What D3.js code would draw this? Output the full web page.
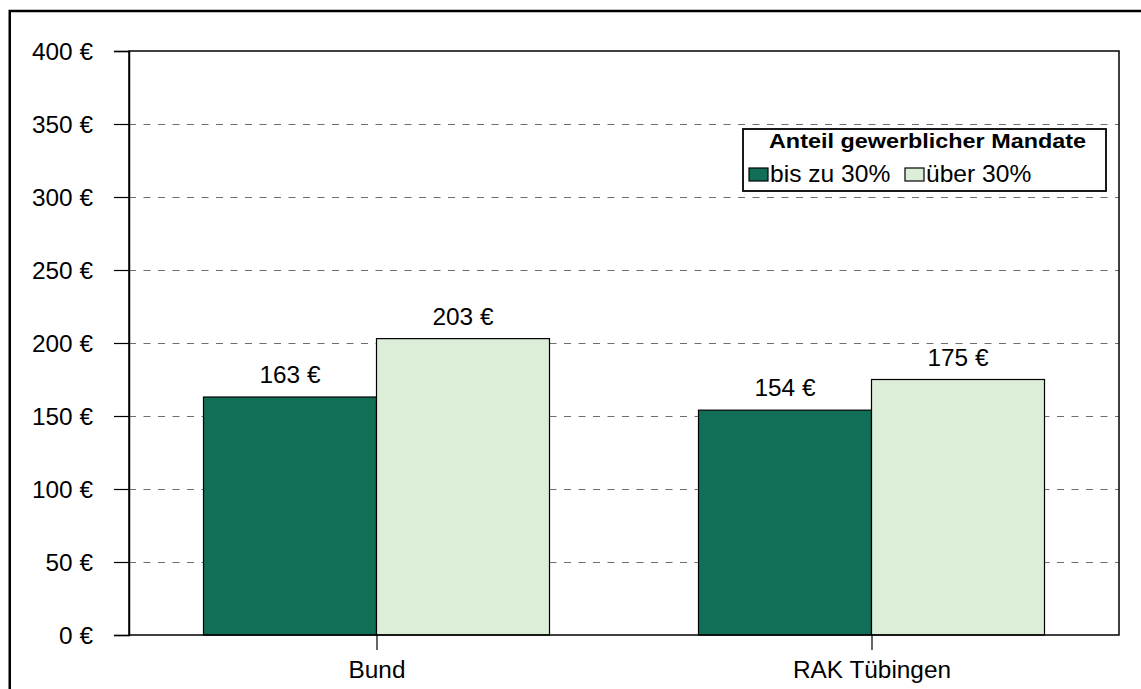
<!DOCTYPE html>
<html>
<head>
<meta charset="utf-8">
<script src="https://cdn.jsdelivr.net/npm/d3@7"></script>
<style>
  html, body { margin: 0; padding: 0; background: #fff; }
  svg { display: block; font-family: "Liberation Sans", Arial, sans-serif; }
</style>
</head>
<body>
<svg id="chart" width="1141" height="689"></svg>
<script>
// ---- data ----
const categories = ["Bund", "RAK Tübingen"];
const seriesNames = ["bis zu 30%", "über 30%"];
const valuesUpTo30 = [163, 154];
const valuesOver30 = [203, 175];
const yTickValues = [0, 50, 100, 150, 200, 250, 300, 350, 400];
const legendTitle = "Anteil gewerblicher Mandate";
const seriesColors = ["#116f57", "#dcedd8"];

// ---- layout ----
const W = 1141, H = 689;
const plot = { left: 129, right: 1119, top: 51, bottom: 635 };
const fontSize = 23;
const sx = 1.06; // horizontal text stretch seen in the reference

function stretch(sel, s) {
  sel.each(function () {
    const t = d3.select(this);
    const x = +t.attr("x") || 0, yy = +t.attr("y") || 0;
    t.attr("x", 0).attr("y", 0).attr("transform", `translate(${x},${yy}) scale(${s},1)`);
  });
}

const svg = d3.select("#chart");

// outer border
svg.append("rect")
  .attr("x", 9.75).attr("y", 11).attr("width", W + 20).attr("height", H + 20)
  .attr("fill", "#fff").attr("stroke", "#000").attr("stroke-width", 2.5);

const x0 = d3.scaleBand().domain(categories)
  .range([plot.left, plot.right]).paddingInner(0.301).paddingOuter(0.1505);
const x1 = d3.scaleBand().domain(seriesNames).range([0, x0.bandwidth()]).padding(0);
const y = d3.scaleLinear().domain([0, 400]).range([plot.bottom, plot.top]);

// gridlines
svg.append("g").selectAll("line")
  .data(yTickValues.filter(v => v > 0 && v < 400))
  .join("line")
  .attr("x1", plot.left).attr("x2", plot.right)
  .attr("y1", d => Math.round(y(d)) + 0.5).attr("y2", d => Math.round(y(d)) + 0.5)
  .attr("stroke", "#6e6e6e").attr("stroke-width", 1.2)
  .attr("stroke-dasharray", "7,7.5");

// bars
const table = categories.map((c, i) => ({ cat: c, vals: [valuesUpTo30[i], valuesOver30[i]] }));
const groups = svg.append("g").selectAll("g")
  .data(table).join("g")
  .attr("transform", d => `translate(${x0(d.cat)},0)`);

groups.selectAll("rect")
  .data(d => d.vals.map((v, j) => ({ s: seriesNames[j], v, j })))
  .join("rect")
  .attr("x", d => x1(d.s)).attr("width", x1.bandwidth())
  .attr("y", d => y(d.v)).attr("height", d => y(0) - y(d.v))
  .attr("fill", d => seriesColors[d.j])
  .attr("stroke", "#000").attr("stroke-width", 1.2);

const labels = groups.selectAll("text")
  .data(d => d.vals.map((v, j) => ({ s: seriesNames[j], v, j })))
  .join("text")
  .attr("x", d => x1(d.s) + x1.bandwidth() / 2)
  .attr("y", d => y(d.v) - 14)
  .attr("text-anchor", "middle")
  .attr("font-size", fontSize)
  .attr("fill", "#000")
  .text(d => `${d.v} €`);
stretch(labels, sx);

// plot frame
svg.append("rect")
  .attr("x", plot.left).attr("y", plot.top)
  .attr("width", plot.right - plot.left).attr("height", plot.bottom - plot.top)
  .attr("fill", "none").attr("stroke", "#000").attr("stroke-width", 1.5);

// y axis
const yAxis = d3.axisLeft(y).tickValues(yTickValues)
  .tickSize(15).tickPadding(21)
  .tickFormat(d => `${d} €`);
const yg = svg.append("g").attr("transform", `translate(${plot.left},0)`).call(yAxis);
yg.select(".domain").attr("stroke", "#000").attr("stroke-width", 1.5);
yg.selectAll(".tick line").attr("stroke", "#000").attr("stroke-width", 1.2);
yg.selectAll(".tick text").attr("font-size", fontSize).attr("font-family", "Liberation Sans, Arial, sans-serif")
  .attr("fill", "#000").attr("dy", "0.36em");
stretch(yg.selectAll(".tick text"), sx);

// x axis
const xCenter = d3.scalePoint().domain(categories).range([x0(categories[0]) + x0.bandwidth() / 2, x0(categories[1]) + x0.bandwidth() / 2]);
const xAxis = d3.axisBottom(xCenter).tickSize(15).tickPadding(12);
const xg = svg.append("g").attr("transform", `translate(0,${plot.bottom})`).call(xAxis);
xg.select(".domain").remove();
xg.selectAll(".tick line").attr("stroke", "#000").attr("stroke-width", 1.2);
xg.selectAll(".tick text").attr("font-size", fontSize).attr("font-family", "Liberation Sans, Arial, sans-serif")
  .attr("fill", "#000");
stretch(xg.selectAll(".tick text"), sx);

// legend
const lg = svg.append("g");
const lb = { x: 743, y: 129, w: 363, h: 62 };
lg.append("rect").attr("x", lb.x).attr("y", lb.y).attr("width", lb.w).attr("height", lb.h)
  .attr("fill", "#fff").attr("stroke", "#000").attr("stroke-width", 1.8);
const title = lg.append("text").attr("x", lb.x + lb.w / 2 + 3).attr("y", lb.y + 19)
  .attr("text-anchor", "middle").attr("font-size", 20).attr("font-weight", "bold")
  .text(legendTitle);
stretch(title, 1.17);
const itemX = [749, 905];
const items = lg.selectAll("g.item").data(seriesNames).join("g").attr("class", "item")
  .attr("transform", (d, i) => `translate(${itemX[i]},${lb.y + 39})`);
items.append("rect").attr("x", 0).attr("y", 0).attr("width", 19).attr("height", 13)
  .attr("fill", (d, i) => seriesColors[i]).attr("stroke", "#000").attr("stroke-width", 1.2);
const itemText = items.append("text").attr("x", 21).attr("y", 14).attr("font-size", fontSize)
  .text(d => d);
stretch(itemText, 1.07);
</script>
</body>
</html>
